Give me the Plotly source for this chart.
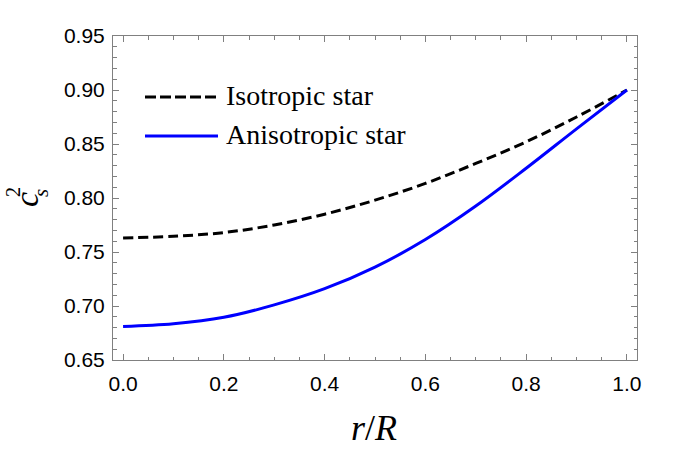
import plotly.graph_objects as go

# r/R sample points and sound speed squared
r = [0.0, 0.1, 0.2, 0.3, 0.4, 0.5, 0.6, 0.7, 0.8, 0.9, 1.0]
cs2_iso = [0.763, 0.7645, 0.768, 0.775, 0.785, 0.798, 0.8135, 0.832, 0.852, 0.875, 0.900]
cs2_aniso = [0.681, 0.6835, 0.6895, 0.701, 0.716, 0.736, 0.7615, 0.7925, 0.8275, 0.864, 0.900]
names = ["Isotropic star", "Anisotropic star"]

fig = go.Figure()
fig.add_trace(go.Scatter(x=r, y=cs2_iso, mode="lines", name=names[0], showlegend=False,
                         line=dict(color="black", width=3, dash="10px,5px", shape="spline")))
fig.add_trace(go.Scatter(x=r, y=cs2_aniso, mode="lines", name=names[1], showlegend=False,
                         line=dict(color="#0000ff", width=3, shape="spline")))

axis_common = dict(showline=True, linecolor="#808080", linewidth=1, mirror="ticks",
                   ticks="inside", ticklen=6, tickcolor="#808080", showgrid=False, zeroline=False,
                   tickfont=dict(family="Liberation Sans", size=21, color="black"))

fig.update_xaxes(range=[-0.02, 1.02], dtick=0.2, tick0=0, tickformat=".1f", ticklabelstandoff=5,
                 minor=dict(dtick=0.05, ticks="inside", ticklen=3.5, tickcolor="#808080"),
                 **axis_common)
fig.update_yaxes(range=[0.65, 0.95], dtick=0.05, tick0=0.65, tickformat=".2f", ticklabelstandoff=3,
                 minor=dict(dtick=0.01, ticks="inside", ticklen=3.5, tickcolor="#808080"),
                 **axis_common)

# plot area in pixels: x 113..637, y 36..360
L, R, T, B = 113, 637, 36, 360
W, H = R - L, B - T
px = lambda v: (v - L) / W
py = lambda v: (B - v) / H

# legend drawn by hand to match the long line samples
fig.add_shape(type="line", xref="paper", yref="paper", x0=px(145), x1=px(218), y0=py(97), y1=py(97),
              line=dict(color="black", width=3, dash="11px,4px"))
fig.add_shape(type="line", xref="paper", yref="paper", x0=px(145), x1=px(218), y0=py(136), y1=py(136),
              line=dict(color="#0000ff", width=3))
for name, yy in zip(names, [95, 134]):
    fig.add_annotation(text=name, xref="paper", yref="paper", x=px(224), y=py(yy),
                       xanchor="left", yanchor="middle", showarrow=False,
                       font=dict(family="Liberation Serif", size=28, color="black"))

# axis titles
fig.add_annotation(text="<i>r</i>/<i>R</i>", xref="paper", yref="paper", x=px(374), y=py(428),
                   xanchor="center", yanchor="middle", showarrow=False,
                   font=dict(family="Liberation Serif", size=36, color="black"))
fig.add_annotation(text="<i>c</i>", xref="paper", yref="paper", x=px(26), y=py(200),
                   xanchor="center", yanchor="middle", showarrow=False, textangle=-90,
                   font=dict(family="Liberation Serif", size=34, color="black"))
fig.add_annotation(text="2", xref="paper", yref="paper", x=px(13), y=py(192),
                   xanchor="center", yanchor="middle", showarrow=False, textangle=-90,
                   font=dict(family="Liberation Serif", size=20, color="black"))
fig.add_annotation(text="<i>s</i>", xref="paper", yref="paper", x=px(41), y=py(193),
                   xanchor="center", yanchor="middle", showarrow=False, textangle=-90,
                   font=dict(family="Liberation Serif", size=21, color="black"))

fig.update_layout(width=676, height=455, plot_bgcolor="white", paper_bgcolor="white",
                  margin=dict(l=L, r=676 - R, t=T, b=455 - B))

fig.write_html("out.html", config={"displayModeBar": False},
               post_script="document.body.style.margin='0';")
